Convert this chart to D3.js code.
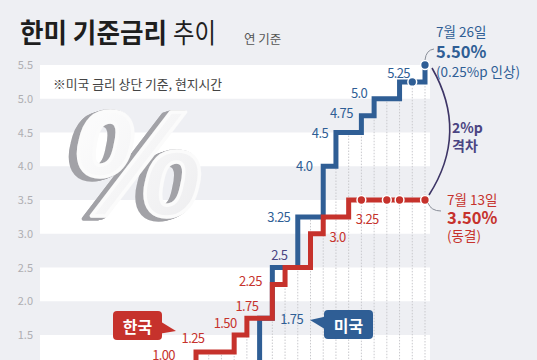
<!DOCTYPE html>
<html>
<head>
<meta charset="utf-8">
<script src="https://cdn.jsdelivr.net/npm/d3@7"></script>
<style>
  html, body { margin: 0; padding: 0; background: #eeeff3; }
  svg { display: block; font-family: "Noto Sans CJK KR", "Noto Sans", sans-serif; }
</style>
</head>
<body>
<script>
// ---- 데이터 ----
// 한국 기준금리 (한국은행 결정일)
const krDates = ["2021-08-26", "2021-11-25", "2022-01-14", "2022-04-14", "2022-05-26", "2022-07-13",
                 "2022-08-25", "2022-10-12", "2022-11-24", "2023-01-13", "2023-02-23", "2023-04-11",
                 "2023-05-25", "2023-07-13"];
const krRates = [0.75, 1.00, 1.25, 1.50, 1.75, 2.25, 2.50, 3.00, 3.25, 3.50, 3.50, 3.50, 3.50, 3.50];
const krLabels = ["", "1.00", "1.25", "1.50", "1.75", "2.25", "", "3.0", "3.25", "", "", "", "", ""];

// 미국 기준금리 (상단, 현지시간)
const usDates = ["2022-03-16", "2022-05-04", "2022-06-15", "2022-07-27", "2022-09-21", "2022-11-02",
                 "2022-12-14", "2023-02-01", "2023-03-22", "2023-05-03", "2023-06-14", "2023-07-26"];
const usRates = [0.50, 1.00, 1.75, 2.50, 3.25, 4.00, 4.50, 4.75, 5.00, 5.25, 5.25, 5.50];
const usLabels = ["", "", "1.75", "2.5", "3.25", "4.0", "4.5", "4.75", "5.0", "5.25", "", ""];

const yTicks = [1.5, 2.0, 2.5, 3.0, 3.5, 4.0, 4.5, 5.0, 5.5];

// ---- 레이아웃 ----
const W = 537, H = 360;
const colorKr = "#c6322c", colorUs = "#2f5e95", colorMix = "#4a4482";
const lineW = 5;

// 라벨 위치 (계단 모서리 기준 오프셋)
const krLabelPos = [null, [-7, -14], [-3, -14], [-9, -13], [0, -13], [-22, -4], null, [27, 3], [44, 2]];
const usLabelPos = [null, null, [32, 0], [7, -13], [-19, 0], [-19, -1], [-16, 0], [-20, -3], [-15, -6], [-1, -9]];

const parse = d3.timeParse("%Y-%m-%d");
const t0 = new Date(2022, 0, 1);
const monthOf = s => d3.timeMonth.count(t0, parse(s));

const x = d3.scaleLinear().domain([0, 18]).range([196, 425]);
const y = d3.scaleLinear().domain([1.5, 5.5]).range([335, 65]);

const kr = krDates.map((d, i) => ({ m: monthOf(d), v: krRates[i], label: krLabels[i] }));
const us = usDates.map((d, i) => ({ m: monthOf(d), v: usRates[i], label: usLabels[i] }));

const svg = d3.select("body").append("svg")
  .attr("width", W)
  .attr("height", H);

svg.append("rect").attr("width", W).attr("height", H).attr("fill", "#eeeff3");

// 배경 줄무늬
const bands = [[5.0, 5.5], [4.0, 4.5], [3.0, 3.5], [2.0, 2.5], [1.0, 1.5]];
svg.append("g").selectAll("rect")
  .data(bands)
  .join("rect")
  .attr("x", 40)
  .attr("width", 390)
  .attr("y", d => y(d[1]))
  .attr("height", d => y(d[0]) - y(d[1]))
  .attr("fill", "#ffffff");

// y축
const yAxis = svg.append("g")
  .attr("transform", "translate(33,0)")
  .call(d3.axisLeft(y).tickValues(yTicks).tickSize(0).tickPadding(0).tickFormat(d3.format(".1f")));
yAxis.select(".domain").remove();
yAxis.selectAll("text")
  .attr("fill", "#aeaeb2")
  .style("font-family", "'Noto Sans CJK KR', sans-serif")
  .style("font-size", "11px");

// 주석
svg.append("text")
  .attr("x", 53).attr("y", 83)
  .attr("dominant-baseline", "central")
  .attr("font-size", 12.8)
  .attr("fill", "#444")
  .text("※미국 금리 상단 기준, 현지시간");

// 큰 % 그림 (입체 효과는 필터로)
const defs = svg.append("defs");
const f = defs.append("filter").attr("id", "extrude")
  .attr("x", "-20%").attr("y", "-20%").attr("width", "140%").attr("height", "140%");
const steps = d3.range(1, 10);
steps.forEach(i => {
  f.append("feOffset").attr("in", "SourceAlpha")
    .attr("dx", -i * 0.9).attr("dy", i * 0.3).attr("result", "o" + i);
});
const fm = f.append("feMerge").attr("result", "ext");
steps.forEach(i => fm.append("feMergeNode").attr("in", "o" + i));
f.append("feFlood").attr("flood-color", "#a2a2a7").attr("result", "gray");
f.append("feComposite").attr("in", "gray").attr("in2", "ext").attr("operator", "in").attr("result", "side");
f.append("feGaussianBlur").attr("in", "side").attr("stdDeviation", 0.6).attr("result", "sideSoft");
const fm2 = f.append("feMerge");
fm2.append("feMergeNode").attr("in", "sideSoft");
fm2.append("feMergeNode").attr("in", "SourceGraphic");

const gFace = defs.append("linearGradient").attr("id", "pctFace").attr("x1", 0).attr("x2", 1).attr("y1", 0).attr("y2", 1);
gFace.append("stop").attr("offset", "0%").attr("stop-color", "#ffffff");
gFace.append("stop").attr("offset", "100%").attr("stop-color", "#ececee");

svg.append("text")
  .attr("x", 137).attr("y", 216)
  .attr("font-family", "'Liberation Sans', Arial, sans-serif")
  .attr("font-weight", "bold")
  .attr("font-style", "italic")
  .attr("font-size", 150)
  .attr("text-anchor", "middle")
  .attr("fill", "url(#pctFace)")
  .attr("stroke", "#fbfbfb")
  .attr("stroke-width", 3.5)
  .attr("stroke-linejoin", "round")
  .attr("filter", "url(#extrude)")
  .text("%");

// 월별 점선
const rateAt = (s, m) => {
  let v = 0;
  s.forEach(e => { if (e.m <= m) v = e.v; });
  return v;
};
svg.append("g").selectAll("line")
  .data(d3.range(0, 19))
  .join("line")
  .attr("x1", d => x(d)).attr("x2", d => x(d))
  .attr("y1", d => y(Math.max(rateAt(us, d), rateAt(kr, d))))
  .attr("y2", H)
  .attr("stroke", "#c9c9cd")
  .attr("stroke-width", 1)
  .attr("stroke-dasharray", "1.5,1.5");

// 계단선
const line = d3.line()
  .x(d => x(d.m))
  .y(d => y(d.v))
  .curve(d3.curveStepAfter);

svg.append("path")
  .datum(us)
  .attr("d", line)
  .attr("fill", "none")
  .attr("stroke", colorUs)
  .attr("stroke-width", lineW)
  .attr("stroke-linejoin", "miter");

svg.append("path")
  .datum(kr)
  .attr("d", line)
  .attr("fill", "none")
  .attr("stroke", colorKr)
  .attr("stroke-width", lineW)
  .attr("stroke-linejoin", "miter");

// 동결/최종 점
const holds = s => s.filter((d, i) => i === s.length - 1 || (i > 0 && d.v === s[i - 1].v));
svg.append("g").selectAll("circle")
  .data(holds(us))
  .join("circle")
  .attr("cx", d => x(d.m)).attr("cy", d => y(d.v))
  .attr("r", 4.4)
  .attr("fill", colorUs)
  .attr("stroke", "#ffffff")
  .attr("stroke-width", 1.5);
svg.append("g").selectAll("circle")
  .data(holds(kr))
  .join("circle")
  .attr("cx", d => x(d.m)).attr("cy", d => y(d.v))
  .attr("r", 4.4)
  .attr("fill", colorKr)
  .attr("stroke", "#ffffff")
  .attr("stroke-width", 1.5);

// 값 라벨
function stepLabels(s, pos, color) {
  svg.append("g").selectAll("text")
    .data(s.map((d, i) => ({ d, p: pos[i] })).filter(o => o.d.label && o.p))
    .join("text")
    .attr("x", o => x(o.d.m) + o.p[0])
    .attr("y", o => y(o.d.v) + o.p[1])
    .attr("text-anchor", "middle")
    .attr("dominant-baseline", "central")
    .attr("font-size", 13)
    .attr("letter-spacing", -0.6)
    .attr("fill", o => (o.d.label === "2.5") ? colorMix : color)
    .text(o => o.d.label);
}
stepLabels(kr, krLabelPos, colorKr);
stepLabels(us, usLabelPos, colorUs);

// 한국 / 미국 말풍선
function tag(text, bx, by, tail, fill) {
  const g = svg.append("g");
  g.append("path").attr("d", d3.line()(tail) + "Z").attr("fill", fill);
  g.append("rect")
    .attr("x", bx).attr("y", by)
    .attr("width", 49).attr("height", 29)
    .attr("rx", 4)
    .attr("fill", fill);
  g.append("text")
    .attr("x", bx + 24.5).attr("y", by + 14.5)
    .attr("text-anchor", "middle")
    .attr("dominant-baseline", "central")
    .attr("font-size", 16)
    .attr("font-weight", "bold")
    .attr("fill", "#fff")
    .text(text);
}
tag("한국", 113, 311, [[158, 320], [176, 331], [158, 334]], colorKr);
tag("미국", 324, 310, [[328, 316], [310, 320], [328, 331]], colorUs);

// 최종값 주석
const usLast = us[us.length - 1], krLast = kr[kr.length - 1];
const ux = x(usLast.m), uy = y(usLast.v);
const kx = x(krLast.m), ky = y(krLast.v);

svg.append("path")
  .attr("d", `M${ux},${uy - 5} Q${ux + 1},${uy - 15} ${ux + 9},${uy - 16}`)
  .attr("fill", "none").attr("stroke", "#8a8f99").attr("stroke-width", 1);
svg.append("path")
  .attr("d", `M${kx + 3},${ky + 3} Q${kx + 6},${ky + 11} ${kx + 16},${ky + 11}`)
  .attr("fill", "none").attr("stroke", "#8a8f99").attr("stroke-width", 1);

// 격차 괄호
svg.append("path")
  .attr("d", `M${ux + 7},${uy + 3} Q${ux + 44},${(uy + ky) / 2} ${kx + 4},${ky - 5}`)
  .attr("fill", "none").attr("stroke", "#3d3566").attr("stroke-width", 1.6);

function note(lines, tx, ty, color) {
  const t = svg.append("g").attr("fill", color);
  lines.forEach(l => {
    t.append("text")
      .attr("x", tx).attr("y", ty + l.dy)
      .attr("dominant-baseline", "central")
      .attr("font-size", l.size)
      .attr("font-weight", l.bold ? "bold" : "normal")
      .text(l.text);
  });
}
note([
  { text: "7월 26일", dy: -34, size: 13.5 },
  { text: "5.50%", dy: -14, size: 16.5, bold: true },
  { text: "(0.25%p 인상)", dy: 6, size: 13.5 }
], ux + 11, uy, colorUs);
note([
  { text: "7월 13일", dy: -1, size: 13.5 },
  { text: "3.50%", dy: 17, size: 16.5, bold: true },
  { text: "(동결)", dy: 35, size: 13.5 }
], kx + 22, ky, colorKr);
note([
  { text: "2%p", dy: 0, size: 14, bold: true },
  { text: "격차", dy: 18, size: 14, bold: true }
], 452, 127, colorMix);

// 제목
svg.append("text")
  .attr("x", 20).attr("y", 43)
  .attr("fill", "#1e1e1e")
  .attr("font-size", 27)
  .attr("font-weight", "bold")
  .attr("textLength", 147)
  .attr("lengthAdjust", "spacingAndGlyphs")
  .text("한미 기준금리");
svg.append("text")
  .attr("x", 173).attr("y", 43)
  .attr("fill", "#1e1e1e")
  .attr("font-size", 27)
  .attr("textLength", 43)
  .attr("lengthAdjust", "spacingAndGlyphs")
  .text("추이");
svg.append("text")
  .attr("x", 244).attr("y", 44)
  .attr("font-size", 12.5)
  .attr("fill", "#555")
  .text("연 기준");
</script>
</body>
</html>
